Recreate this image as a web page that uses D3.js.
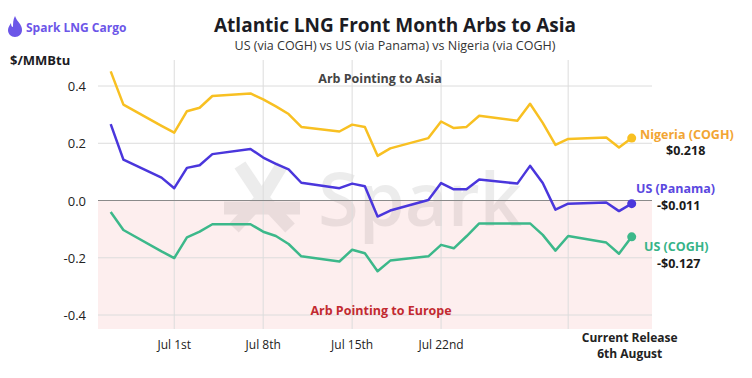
<!DOCTYPE html>
<html>
<head>
<meta charset="utf-8">
<script src="https://cdn.jsdelivr.net/npm/d3@7"></script>
<style>
  body { margin: 0; background: #fff; }
  text { font-family: "Open Sans", "Noto Sans", sans-serif; }
</style>
</head>
<body>
<div id="container"></div>
<script>
// Atlantic LNG front month arbs to Asia

const dates = ["2025-06-26","2025-06-27","2025-06-30","2025-07-01","2025-07-02","2025-07-03","2025-07-04",
  "2025-07-07","2025-07-08","2025-07-09","2025-07-10","2025-07-11","2025-07-14","2025-07-15","2025-07-16",
  "2025-07-17","2025-07-18","2025-07-21","2025-07-22","2025-07-23","2025-07-24","2025-07-25","2025-07-28",
  "2025-07-29","2025-07-30","2025-07-31","2025-08-01","2025-08-04","2025-08-05","2025-08-06"]

const nigeria = [0.451,0.335,0.261,0.237,0.312,0.324,0.365,0.374,0.353,0.329,0.302,0.257,0.241,0.265,0.257,
  0.156,0.182,0.218,0.276,0.253,0.257,0.296,0.279,0.338,0.271,0.194,0.215,0.220,0.185,0.218]
const panama = [0.267,0.143,0.080,0.043,0.114,0.123,0.162,0.180,0.150,0.128,0.109,0.062,0.043,0.059,0.050,
  -0.056,-0.035,0.002,0.061,0.039,0.039,0.073,0.059,0.121,0.061,-0.032,-0.011,-0.007,-0.037,-0.011]
const usCogh = [-0.040,-0.103,-0.178,-0.201,-0.129,-0.109,-0.083,-0.083,-0.109,-0.124,-0.152,-0.195,-0.213,-0.172,-0.184,
  -0.247,-0.210,-0.195,-0.155,-0.167,-0.125,-0.080,-0.080,-0.080,-0.120,-0.175,-0.124,-0.147,-0.186,-0.127]

const yTicks = [-0.4, -0.2, 0.0, 0.2, 0.4]
const xTicks = ["2025-07-01","2025-07-08","2025-07-15","2025-07-22","2025-08-01"]
const xTickLabels = ["Jul 1st","Jul 8th","Jul 15th","Jul 22nd",""]

const series = [
  {name: "Nigeria (COGH)", values: nigeria, color: "#f8c022", labelColor: "#f2a533", lx: 640, ly: 139, vx: 666, vy: 155},
  {name: "US (Panama)", values: panama, color: "#4a36dc", labelColor: "#5a48e0", lx: 636, ly: 193, vx: 657, vy: 210},
  {name: "US (COGH)", values: usCogh, color: "#3cb88a", labelColor: "#36b388", lx: 644, ly: 251, vx: 657, vy: 268}
]

const W = 752, H = 378
const plot = {left: 98, right: 652, top: 60, bottom: 329}

const svg = d3.select("#container")
  .append("svg")
    .attr("width", W)
    .attr("height", H)

const parse = d3.timeParse("%Y-%m-%d")

const x = d3.scaleTime()
  .domain([parse(dates[0]), parse(dates[dates.length - 1])])
  .range([110.7, 631.7])

const y = d3.scaleLinear()
  .domain([-0.4, 0.4])
  .range([315, 86])

// pink area below zero
svg.append("rect")
  .attr("x", plot.left)
  .attr("y", y(0))
  .attr("width", plot.right - plot.left)
  .attr("height", plot.bottom - y(0))
  .attr("fill", "#fdeeee")

// watermark
const wm = svg.append("g").attr("opacity", 0.07)
wm.append("g")
  .attr("stroke", "#000")
  .attr("stroke-width", 13)
  .attr("stroke-linecap", "butt")
  .selectAll("line")
  .data([[240,165,262,198],[282,165,262,198],[262,198,234,228],[262,198,290,228],[224,208,300,208]])
  .join("line")
    .attr("x1", d => d[0]).attr("y1", d => d[1])
    .attr("x2", d => d[2]).attr("y2", d => d[3])
wm.append("text")
  .attr("x", 318)
  .attr("y", 226)
  .attr("font-size", 74)
  .attr("font-weight", 600)
  .attr("fill", "#000")
  .text("Spark")

// grid
svg.append("g")
  .selectAll("line")
  .data(yTicks.filter(d => d !== 0))
  .join("line")
    .attr("x1", plot.left).attr("x2", plot.right)
    .attr("y1", d => y(d)).attr("y2", d => y(d))
    .attr("stroke", "#dcdcdc")
    .attr("stroke-width", 1)

svg.append("g")
  .selectAll("line")
  .data(xTicks)
  .join("line")
    .attr("x1", d => x(parse(d))).attr("x2", d => x(parse(d)))
    .attr("y1", plot.top).attr("y2", plot.bottom)
    .attr("stroke", "#dcdcdc")
    .attr("stroke-width", 1)

svg.append("line")
  .attr("x1", plot.left).attr("x2", plot.right)
  .attr("y1", y(0)).attr("y2", y(0))
  .attr("stroke", "#8a8a8a")
  .attr("stroke-width", 1.2)

// y axis labels
svg.append("g")
  .selectAll("text")
  .data(yTicks)
  .join("text")
    .attr("x", 86)
    .attr("y", d => y(d) + 5)
    .attr("text-anchor", "end")
    .attr("font-size", 13)
    .attr("fill", "#222")
    .text(d => d.toFixed(1))

// x axis labels
svg.append("g")
  .selectAll("text")
  .data(xTicks)
  .join("text")
    .attr("x", d => x(parse(d)))
    .attr("y", 349)
    .attr("text-anchor", "middle")
    .attr("font-size", 12)
    .attr("fill", "#222")
    .text((d, i) => xTickLabels[i])

const last = parse(dates[dates.length - 1])
svg.append("text")
  .attr("x", x(last) - 2)
  .attr("y", 342)
  .attr("text-anchor", "middle")
  .attr("font-size", 12)
  .attr("font-weight", 700)
  .attr("fill", "#222")
  .text("Current Release")
svg.append("text")
  .attr("x", x(last) - 2)
  .attr("y", 358)
  .attr("text-anchor", "middle")
  .attr("font-size", 12)
  .attr("font-weight", 700)
  .attr("fill", "#222")
  .text("6th August")

// region labels
svg.append("text")
  .attr("x", 380).attr("y", 83)
  .attr("text-anchor", "middle")
  .attr("font-size", 12.5).attr("font-weight", 700)
  .attr("fill", "#444")
  .text("Arb Pointing to Asia")
svg.append("text")
  .attr("x", 381).attr("y", 315)
  .attr("text-anchor", "middle")
  .attr("font-size", 12.5).attr("font-weight", 700)
  .attr("fill", "#c22a30")
  .text("Arb Pointing to Europe")

// lines
const line = d3.line()
  .x((d, i) => x(parse(dates[i])))
  .y(d => y(d))

series.forEach(s => {
  svg.append("path")
    .datum(s.values)
    .attr("d", line)
    .attr("fill", "none")
    .attr("stroke", s.color)
    .attr("stroke-width", 2.5)
    .attr("stroke-linejoin", "round")

  const v = s.values[s.values.length - 1]
  svg.append("circle")
    .attr("cx", x(last))
    .attr("cy", y(v))
    .attr("r", 4.5)
    .attr("fill", s.color)

  svg.append("text")
    .attr("x", s.lx).attr("y", s.ly)
    .attr("font-size", 12.5).attr("font-weight", 700)
    .attr("fill", s.labelColor)
    .text(s.name)
  svg.append("text")
    .attr("x", s.vx).attr("y", s.vy)
    .attr("font-size", 12.5).attr("font-weight", 700)
    .attr("fill", "#1b1b1b")
    .text((v < 0 ? "-$" : "$") + Math.abs(v).toFixed(3))
})

// header
svg.append("text")
  .attr("x", 395).attr("y", 32)
  .attr("text-anchor", "middle")
  .attr("font-size", 19).attr("font-weight", 700)
  .attr("fill", "#1c1c24")
  .text("Atlantic LNG Front Month Arbs to Asia")
svg.append("text")
  .attr("x", 395).attr("y", 50)
  .attr("text-anchor", "middle")
  .attr("font-size", 12.5)
  .attr("fill", "#333")
  .text("US (via COGH) vs US (via Panama) vs Nigeria (via COGH)")
svg.append("text")
  .attr("x", 10).attr("y", 65)
  .attr("font-size", 13).attr("font-weight", 700)
  .attr("fill", "#1c1c24")
  .text("$/MMBtu")

// logo
svg.append("path")
  .attr("d", "M15,16 C17,22 22,24 22,30 C22,34 19,37 15,37 C11,37 8,34 8,30 C8,27 10,25 11,23 C11,26 12,27 13,27 C13,23 13,20 15,16 Z")
  .attr("fill", "#6c56e8")
svg.append("text")
  .attr("x", 26).attr("y", 32)
  .attr("font-size", 12).attr("font-weight", 700)
  .attr("fill", "#6c56e8")
  .text("Spark LNG Cargo")
</script>
</body>
</html>
